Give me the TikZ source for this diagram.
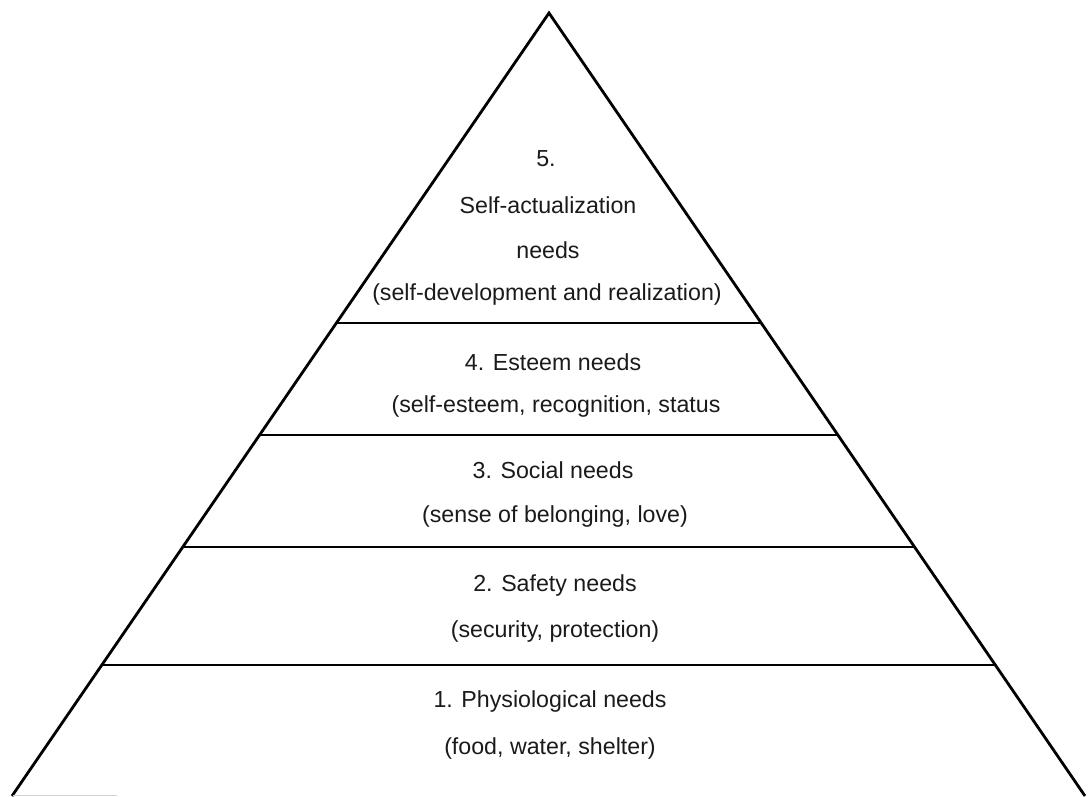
\documentclass[tikz,border=0pt]{standalone}
\usepackage{fontspec}
\setmainfont{Liberation Sans}
\usetikzlibrary{calc}
\definecolor{txt}{HTML}{1A1A1A}
\begin{document}
\begin{tikzpicture}[x=1pt,y=1pt,
  side/.style={line width=2.8pt,black},
  tier/.style={line width=2.3pt,black},
  lbl/.style={font=\fontsize{23.2}{26}\selectfont,text=txt,inner sep=0pt,anchor=center}]
\useasboundingbox (0,0) rectangle (1088,796);
% triangle corners
\coordinate (A) at (549,783);
\coordinate (L) at (12,0);
\coordinate (R) at (1085,0);
\draw[side] (L) -- (A) -- (R);
% tier boundaries
\coordinate (l4) at ($(L)!0.604!(A)$); \coordinate (r4) at ($(R)!0.604!(A)$);
\coordinate (l3) at ($(L)!0.461!(A)$); \coordinate (r3) at ($(R)!0.461!(A)$);
\coordinate (l2) at ($(L)!0.318!(A)$); \coordinate (r2) at ($(R)!0.318!(A)$);
\coordinate (l1) at ($(L)!0.167!(A)$); \coordinate (r1) at ($(R)!0.167!(A)$);
\draw[tier] (l4) -- (r4);
\draw[tier] (l3) -- (r3);
\draw[tier] (l2) -- (r2);
\draw[tier] (l1) -- (r1);
% faint mark at base
\coordinate (g1) at (13,1); \coordinate (g2) at (117,1);
\draw[gray!35,line width=1pt] (g1) -- (g2);
% labels
\node[lbl] (t5a) at (546,637) {5.};
\node[lbl] (t5b) at (548,591) {Self-actualization};
\node[lbl] (t5c) at (548,546) {needs};
\node[lbl] (t5d) at (547,501) {(self-development and realization)};
\node[lbl] (t4a) at (553,434) {4. Esteem needs};
\node[lbl] (t4b) at (556,389) {(self-esteem, recognition, status};
\node[lbl] (t3a) at (553,326) {3. Social needs};
\node[lbl] (t3b) at (555,279) {(sense of belonging, love)};
\node[lbl] (t2a) at (555,210) {2. Safety needs};
\node[lbl] (t2b) at (555,164) {(security, protection)};
\node[lbl] (t1a) at (550,94) {1. Physiological needs};
\node[lbl] (t1b) at (550,48) {(food, water, shelter)};
\end{tikzpicture}
\end{document}
